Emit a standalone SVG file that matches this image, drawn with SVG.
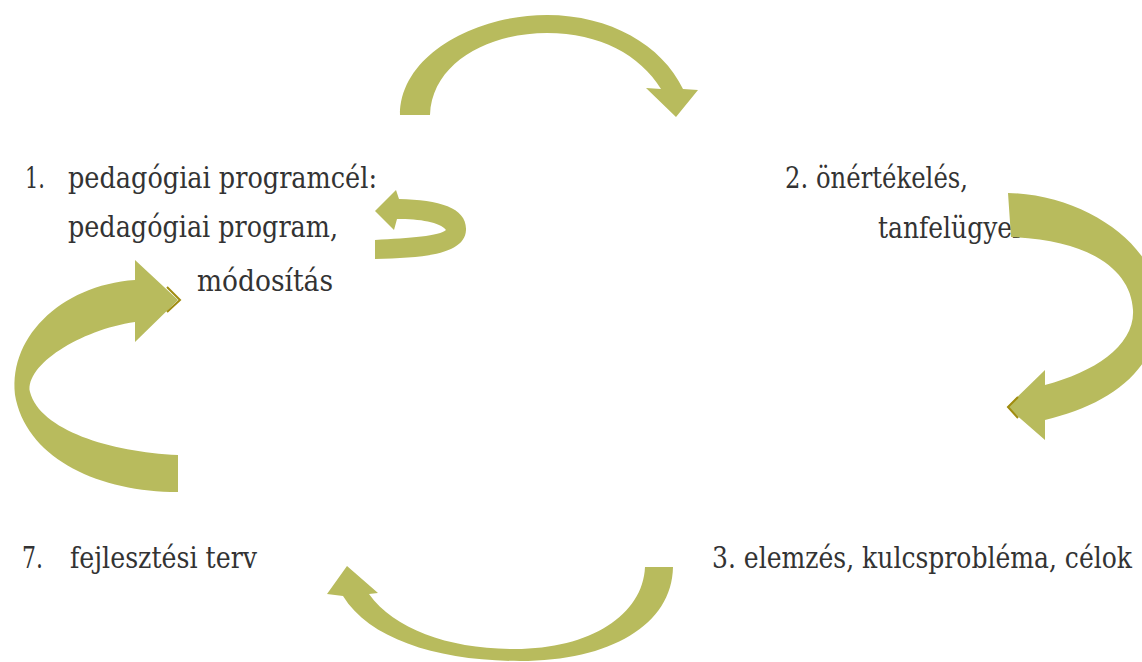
<svg xmlns="http://www.w3.org/2000/svg" width="1142" height="662" viewBox="0 0 1142 662">
<style>
.t{font-family:'DejaVu Serif','Liberation Serif',serif;font-size:30px;fill:#333333}
.a{fill:#b8bb5d}
.d{fill:none;stroke:#a08c10;stroke-width:2}
</style>
<rect width="1142" height="662" fill="#ffffff"/>
<g id="node1">
<text class="t" x="25" y="188" textLength="20" lengthAdjust="spacingAndGlyphs">1.</text>
<text class="t" x="68" y="188" textLength="309" lengthAdjust="spacingAndGlyphs">pedagógiai programcél:</text>
<text class="t" x="68" y="237" textLength="270" lengthAdjust="spacingAndGlyphs">pedagógiai program,</text>
<text class="t" x="197" y="291" textLength="136" lengthAdjust="spacingAndGlyphs">módosítás</text>
</g>
<g id="node2">
<text class="t" x="785" y="188" textLength="183" lengthAdjust="spacingAndGlyphs">2. önértékelés,</text>
<text class="t" x="878" y="238" textLength="167" lengthAdjust="spacingAndGlyphs">tanfelügyelet</text>
</g>
<g id="node3">
<text class="t" x="1132" y="568" text-anchor="end" textLength="420" lengthAdjust="spacingAndGlyphs">3. elemzés, kulcsprobléma, célok</text>
</g>
<g id="node7">
<text class="t" x="22" y="568" textLength="21" lengthAdjust="spacingAndGlyphs">7.</text>
<text class="t" x="70" y="568" textLength="187" lengthAdjust="spacingAndGlyphs">fejlesztési terv</text>
</g>
<g id="connectors">
<path id="arrow-top" class="a" d="M 400 115 C 400 55, 475 15, 547 15 C 610 15, 662 45, 683 89 L 698 90 L 676 117 L 646 88 L 661 89 C 640 55, 600 33, 547 33 C 490 33, 432 62, 430 115 Z"/>
<path id="arrow-small" class="a" d="M 375 240 L 375 259 C 425 258, 465 254, 466 230 C 467 208, 440 200, 399 199 L 396 190 L 375 211 L 394 230 L 397 219 C 420 219, 440 222, 446 230 C 440 236, 410 238, 375 240 Z"/>
<path id="arrow-right" class="a" d="M 1008 193 C 1090 195, 1162 250, 1160 310 C 1158 370, 1110 405, 1045 420 L 1045 440 L 1007 407 L 1045 370 L 1045 385 C 1095 372, 1135 345, 1133 310 C 1131 270, 1090 240, 1011 237 Z"/>
<path class="d" d="M 1018 397 L 1008 407 L 1018 418"/>
<path id="arrow-bottom" class="a" d="M 673 567 C 672 625, 610 661, 520 661 C 440 661, 370 640, 343 596 L 327 594 L 347 566 L 378 593 L 369 594 C 395 630, 450 649, 515 649 C 590 649, 643 615, 645 567 Z"/>
<path id="arrow-left" class="a" d="M 178 492 C 100 492, 30 460, 16 400 C 5 340, 60 285, 135 280 L 135 260 L 178 300 L 135 342 L 135 322 C 80 330, 25 365, 30 392 C 40 430, 110 452, 178 455 Z"/>
<path class="d" d="M 167 287 L 180 300 L 167 312"/>
</g>
</svg>
